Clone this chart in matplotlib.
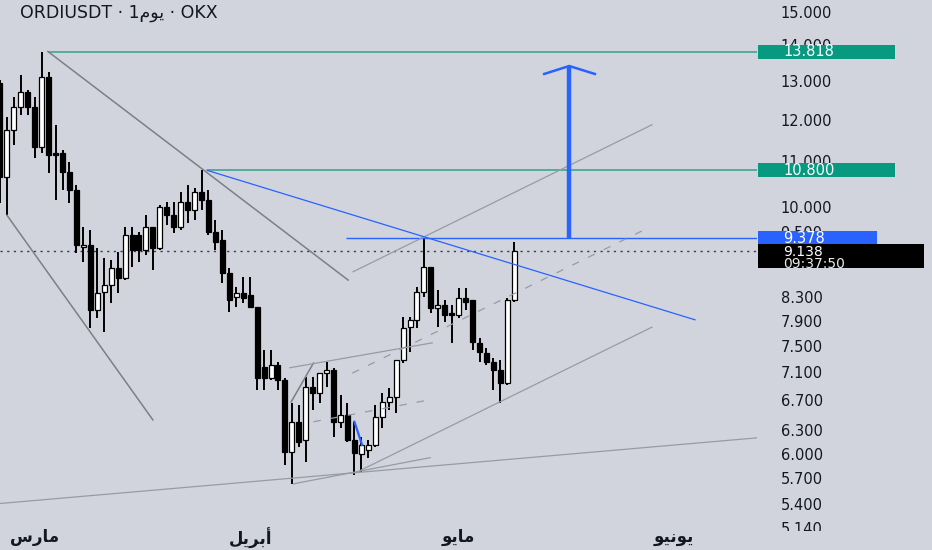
import numpy as np
import pandas as pd
import matplotlib
matplotlib.use("Agg")
import matplotlib.pyplot as plt
import matplotlib.dates as mdates
import matplotlib.ticker as mticker
import matplotlib.transforms as mtransforms
from matplotlib.patches import Rectangle

BG = "#d1d4dc"
INK = "#131722"
TEAL_LINE = "#3aa696"
TEAL_BOX = "#089981"
BLUE = "#2962ff"
GREY = "#7c7f88"
GREY_LIGHT = "#979ba4"

# daily candles, 24 Feb -> 9 May
DATES = pd.date_range("2025-02-24", "2025-05-09", freq="D")
OPEN = [12.95, 10.65, 11.74, 12.32, 12.71, 12.32, 11.34, 13.11, 11.20, 11.20,
        10.76, 10.37, 9.21, 9.25, 8.08, 8.39, 8.51, 8.82, 8.64, 9.45,
        9.45, 9.16, 9.60, 9.19, 10.01, 9.85, 9.60, 10.11, 9.95, 10.33,
        10.16, 9.50, 9.35, 8.73, 8.31, 8.38, 8.34, 8.13, 7.18, 7.02,
        7.21, 6.99, 6.02, 6.41, 6.17, 6.89, 6.81, 7.09, 7.14, 6.41,
        6.50, 6.17, 5.99, 6.05, 6.11, 6.48, 6.68, 6.75, 7.29, 7.80,
        7.92, 8.39, 8.84, 8.12, 8.17, 8.03, 8.00, 8.29, 8.25, 7.55,
        7.40, 7.26, 7.14, 6.95, 8.25]
HIGH = [13.03, 12.06, 12.58, 13.16, 12.76, 12.58, 13.818, 13.24, 11.87, 11.26,
        10.99, 10.48, 9.60, 9.54, 9.19, 9.00, 8.97, 9.12, 9.60, 9.60,
        9.50, 9.85, 9.60, 10.05, 10.11, 10.11, 10.33, 10.48, 10.41, 10.80,
        10.37, 9.74, 9.54, 8.82, 8.48, 8.66, 8.66, 8.13, 7.44, 7.44,
        7.26, 7.02, 6.67, 6.64, 7.04, 7.04, 7.09, 7.26, 7.17, 6.78,
        6.67, 6.41, 6.21, 6.17, 6.64, 6.81, 6.88, 7.29, 7.97, 7.97,
        8.48, 9.378, 8.84, 8.43, 8.25, 8.17, 8.46, 8.46, 8.25, 7.63,
        7.47, 7.32, 7.29, 8.29, 9.31]
LOW = [10.09, 9.84, 11.38, 12.11, 12.11, 11.08, 11.20, 10.74, 10.16, 10.37,
       10.09, 9.10, 8.93, 7.79, 7.95, 7.72, 8.20, 8.38, 8.60, 8.84,
       8.93, 9.06, 8.78, 9.16, 9.64, 9.48, 9.54, 9.68, 9.74, 9.95,
       9.45, 9.16, 8.55, 8.05, 8.13, 8.20, 8.12, 6.85, 6.85, 6.99,
       6.85, 5.86, 5.635, 6.08, 5.90, 6.57, 6.67, 6.89, 6.21, 6.33,
       6.14, 5.74, 5.78, 5.95, 6.08, 6.33, 6.57, 6.53, 7.24, 7.41,
       7.79, 8.31, 8.03, 7.80, 7.89, 7.55, 7.95, 8.08, 7.44, 7.26,
       7.21, 6.85, 6.67, 6.92, 8.22]
CLOSE = [10.65, 11.74, 12.32, 12.71, 12.32, 11.34, 13.11, 11.15, 11.15, 10.76,
         10.37, 9.25, 9.25, 8.08, 8.38, 8.51, 8.82, 8.64, 9.45, 9.16,
         9.16, 9.60, 9.19, 10.01, 9.85, 9.60, 10.11, 9.95, 10.33, 10.16,
         9.50, 9.31, 8.73, 8.25, 8.38, 8.29, 8.13, 7.02, 7.02, 7.21,
         6.99, 6.02, 6.41, 6.14, 6.89, 6.81, 7.09, 7.14, 6.41, 6.50,
         6.17, 6.01, 6.11, 6.11, 6.48, 6.68, 6.75, 7.29, 7.79, 7.92,
         8.39, 8.84, 8.12, 8.17, 8.00, 8.00, 8.29, 8.22, 7.57, 7.41,
         7.26, 7.14, 6.95, 8.25, 9.138]

PRICE_TICKS = [5.14, 5.4, 5.7, 6.0, 6.3, 6.7, 7.1, 7.5, 7.9, 8.3, 9.5,
               10, 11, 12, 13, 14, 15]
MONTH_DATES = ["2025-03-01", "2025-04-01", "2025-05-01", "2025-06-01"]
# Arabic month names in shaped, visual order (matplotlib has no bidi)
MONTH_LABELS = ["\uFEB1\uFEAD\uFE8E\uFEE3",          # مارس
                "\uFEDE\uFEF3\uFEAE\uFE91\uFE83",    # أبريل
                "\uFEEE\uFEF3\uFE8E\uFEE3",          # مايو
                "\uFEEE\uFEF4\uFEE7\uFEEE\uFEF3"]    # يونيو
TITLE = "ORDIUSDT \u00b7 1\uFEE1\uFEEE\uFEF3 \u00b7 OKX"   # 1يوم

LEVEL_TOP, LEVEL_TOP_FROM = 13.818, 1.95
LEVEL_MID, LEVEL_MID_FROM = 10.800, 24.8
LEVEL_BLUE, LEVEL_BLUE_FROM = 9.378, 44.8
LAST_PRICE = 9.138
COUNTDOWN = "09:37:50"

# drawings as (days after 1 March, price) pairs
GREY_LINES = [((1.9, 13.82), (45.1, 8.60)),
              ((-4.0, 9.84), (17.0, 6.435)),
              ((36.9, 6.68), (40.1, 7.24))]
CHANNEL_LINES = [((45.8, 8.75), (88.8, 11.87)),
                 ((46.5, 5.78), (88.8, 7.80)),
                 ((36.7, 7.17), (57.2, 7.55)),
                 ((37.2, 5.635), (56.9, 5.95)),
                 ((-5.0, 5.41), (104.0, 6.20))]
DASHED_LINES = [((45.7, 7.09), (88.2, 9.58)),
                ((40.1, 6.41), (56.9, 6.71))]
BLUE_LINES = [((24.8, 10.80), (95.0, 7.92)),
              ((46.0, 6.41), (47.1, 6.11))]
ARROW_DAY, ARROW_TIP = 76.9, 13.41
ARROW_WINGS = [(73.3, 13.19), (80.6, 13.19)]

FIG_W, FIG_H = 932, 550
AX_W, AX_H, AX_BOTTOM = 757, 531, 19


def main():
    fig = plt.figure(figsize=(FIG_W / 100, FIG_H / 100), dpi=100, facecolor=BG)
    ax = fig.add_axes([0, AX_BOTTOM / FIG_H, AX_W / FIG_W, AX_H / FIG_H])
    ax.set_facecolor(BG)
    for s in ax.spines.values():
        s.set_visible(False)

    x0 = mdates.date2num(pd.Timestamp("2025-03-01"))
    ax.set_yscale("log")
    ax.set_ylim(5.110, 15.378)
    ax.set_xlim(x0 - 4.993, x0 + 103.92)

    # candles
    x = mdates.date2num(DATES)
    o, h, l, c = map(np.array, (OPEN, HIGH, LOW, CLOSE))
    up = c >= o
    ax.vlines(x, l, h, color="black", lw=1.4, zorder=3)
    ax.bar(x, np.abs(c - o), bottom=np.minimum(o, c), width=0.72,
           color=np.where(up, "white", "black"), edgecolor="black",
           linewidth=0.9, zorder=4)

    # horizontal levels
    right = x0 + 104
    ax.hlines(LEVEL_TOP, x0 + LEVEL_TOP_FROM, right, color=TEAL_LINE, lw=1.2, zorder=5)
    ax.hlines(LEVEL_MID, x0 + LEVEL_MID_FROM, right, color=TEAL_LINE, lw=1.2, zorder=5)
    ax.hlines(LEVEL_BLUE, x0 + LEVEL_BLUE_FROM, right, color=BLUE, lw=1.0, zorder=5)
    ax.axhline(LAST_PRICE, color="#3c3f46", lw=1.0, ls=(0, (1.6, 3.2)), zorder=2)

    def seg(lines, **kw):
        for (d1, p1), (d2, p2) in lines:
            ax.plot([x0 + d1, x0 + d2], [p1, p2], zorder=5, **kw)

    seg(GREY_LINES, color=GREY, lw=1.1)
    seg(CHANNEL_LINES, color=GREY_LIGHT, lw=0.9)
    seg(DASHED_LINES, color=GREY_LIGHT, lw=0.9, ls=(0, (6, 8)))
    seg(BLUE_LINES[:1], color=BLUE, lw=0.9)
    seg(BLUE_LINES[1:], color=BLUE, lw=1.6)

    # target arrow
    ax.plot([x0 + ARROW_DAY] * 2, [LEVEL_BLUE, ARROW_TIP], color=BLUE,
            lw=3.2, solid_capstyle="butt", zorder=6)
    (wd1, wp1), (wd2, wp2) = ARROW_WINGS
    ax.plot([x0 + wd1, x0 + ARROW_DAY, x0 + wd2], [wp1, ARROW_TIP, wp2],
            color=BLUE, lw=1.8, solid_joinstyle="miter", zorder=6)

    # price scale
    ax.yaxis.tick_right()
    ax.set_yticks(PRICE_TICKS)
    ax.set_yticklabels([f"{t:.3f}" for t in PRICE_TICKS])
    ax.yaxis.set_minor_locator(mticker.NullLocator())
    ax.tick_params(axis="y", length=0, pad=17, labelsize=10.5, labelcolor=INK)

    # time scale
    ax.set_xticks(mdates.date2num(pd.to_datetime(MONTH_DATES)))
    ax.set_xticklabels(MONTH_LABELS, family="DejaVu Sans", fontweight="bold")
    ax.xaxis.set_minor_locator(mticker.NullLocator())
    ax.tick_params(axis="x", length=0, pad=-2.5, labelsize=12, labelcolor=INK)

    # price labels on the scale
    px_per_ln = AX_H / np.log(15.378 / 5.110)
    trans = mtransforms.blended_transform_factory(ax.transAxes, ax.transData)
    bx = 758 / AX_W
    tx = 783 / AX_W

    def price_box(price, text, color, width_px, up_px=7, down_px=7, tcolor="white"):
        lo = price * np.exp(-down_px / px_per_ln)
        hi = price * np.exp(up_px / px_per_ln)
        ax.add_patch(Rectangle((bx, lo), width_px / AX_W, hi - lo, transform=trans,
                               facecolor=color, edgecolor="none", clip_on=False,
                               zorder=10))
        ax.text(tx, price, text, transform=trans, color=tcolor, fontsize=10.5,
                ha="left", va="center", clip_on=False, zorder=11)

    price_box(LEVEL_TOP, f"{LEVEL_TOP:.3f}", TEAL_BOX, 137)
    price_box(LEVEL_MID, f"{LEVEL_MID:.3f}", TEAL_BOX, 137)
    down = mtransforms.offset_copy(trans, fig=fig, x=0, y=-1.5, units="dots")
    price_box(LAST_PRICE, "", "black", 166, up_px=7, down_px=17)
    ax.text(tx, LAST_PRICE, f"{LAST_PRICE:.3f}", transform=down, color="white",
            fontsize=10, ha="left", va="center", clip_on=False, zorder=11)
    price_box(LEVEL_BLUE, f"{LEVEL_BLUE:.3f}", BLUE, 119, up_px=7, down_px=6)
    down = mtransforms.offset_copy(trans, fig=fig, x=0, y=-13, units="dots")
    ax.text(tx, LAST_PRICE, COUNTDOWN, transform=down, color="#e8e8e8", fontsize=10,
            ha="left", va="center", clip_on=False, zorder=11)

    # time-scale strip hides the bottom of the last price label
    fig.add_artist(Rectangle((AX_W / FIG_W, 0), 1 - AX_W / FIG_W, AX_BOTTOM / FIG_H,
                             transform=fig.transFigure, facecolor=BG,
                             edgecolor="none", zorder=10))

    fig.text(20 / FIG_W, 1 - 13 / FIG_H, TITLE, fontsize=12.5, color=INK,
             family="DejaVu Sans", ha="left", va="center")

    fig.savefig("out.png", dpi=100, facecolor=BG)


if __name__ == "__main__":
    main()
